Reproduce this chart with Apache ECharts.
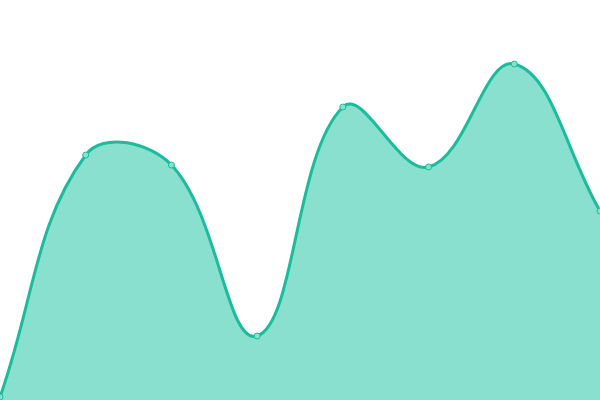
<!DOCTYPE html>
<html>
<head>
<meta charset="utf-8">
<script src="https://cdn.jsdelivr.net/npm/echarts@6/dist/echarts.min.js"></script>
<style>
  html, body { margin: 0; padding: 0; background: #fff; }
  #main { width: 600px; height: 400px; }
</style>
</head>
<body>
<div id="main"></div>
<script>
// data
var categories = ['A', 'B', 'C', 'D', 'E', 'F', 'G', 'H'];
var values = [3, 245, 235, 64, 293, 233, 336, 189];

var lineColor = '#1abc9c';
var fillColor = '#8ae0cf';
var tension = 0.4;

// spline through the data coords, control points like a tension spline (no clamping)
function buildPath(pts, close, bottom) {
  var cps = pts.map(function (p, i) {
    var prev = pts[i - 1] || p;
    var next = pts[i + 1] || p;
    var d01 = Math.hypot(p[0] - prev[0], p[1] - prev[1]);
    var d12 = Math.hypot(next[0] - p[0], next[1] - p[1]);
    var fa = d01 + d12 ? tension * d01 / (d01 + d12) : 0;
    var fb = d01 + d12 ? tension * d12 / (d01 + d12) : 0;
    return {
      prev: [p[0] - fa * (next[0] - prev[0]), p[1] - fa * (next[1] - prev[1])],
      next: [p[0] + fb * (next[0] - prev[0]), p[1] + fb * (next[1] - prev[1])]
    };
  });
  var d = 'M' + pts[0][0] + ' ' + pts[0][1];
  for (var i = 1; i < pts.length; i++) {
    d += ' C' + cps[i - 1].next[0] + ' ' + cps[i - 1].next[1] + ' ' +
      cps[i].prev[0] + ' ' + cps[i].prev[1] + ' ' + pts[i][0] + ' ' + pts[i][1];
  }
  if (close) {
    d += ' L' + pts[pts.length - 1][0] + ' ' + bottom + ' L' + pts[0][0] + ' ' + bottom + ' Z';
  }
  return d;
}

var myChart = echarts.init(document.getElementById('main'));
var option = {
  animation: false,
  grid: { left: 0, right: 0, top: 0, bottom: 0 },
  xAxis: {
    type: 'category',
    boundaryGap: false,
    data: categories,
    show: false
  },
  yAxis: {
    type: 'value',
    min: 0,
    max: 400,
    show: false
  },
  series: [
    {
      type: 'custom',
      data: values.map(function (v, i) { return [i, v]; }),
      z: 1,
      renderItem: function (params, api) {
        if (params.dataIndex !== 0) return null;
        var pts = values.map(function (v, i) { return api.coord([i, v]); });
        var bottom = api.coord([0, 0])[1];
        return {
          type: 'group',
          children: [
            {
              type: 'path',
              shape: { pathData: buildPath(pts, true, bottom) },
              style: { fill: fillColor, stroke: null }
            },
            {
              type: 'path',
              shape: { pathData: buildPath(pts, false) },
              style: { fill: null, stroke: lineColor, lineWidth: 3 }
            }
          ]
        };
      }
    },
    {
      type: 'scatter',
      data: values,
      z: 3,
      symbol: 'circle',
      symbolSize: 6,
      itemStyle: { color: fillColor, borderColor: lineColor, borderWidth: 1, opacity: 1 }
    }
  ]
};
myChart.setOption(option);
</script>
</body>
</html>
